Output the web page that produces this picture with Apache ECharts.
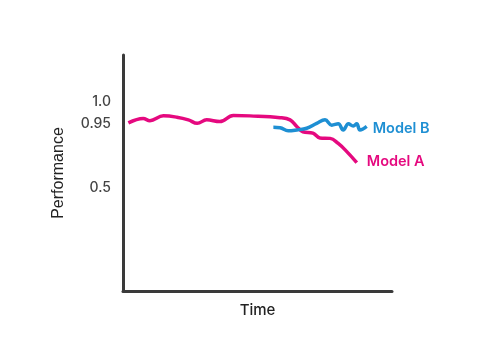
<!DOCTYPE html>
<html><head><meta charset="utf-8">
<script src="https://cdn.jsdelivr.net/npm/echarts@6/dist/echarts.min.js"></script>
<style>html,body{margin:0;padding:0;background:#fff}#c{width:480px;height:360px}</style>
</head><body><div id="c"></div>
<script>
// Time (arbitrary 0-100 units) and performance readings
var timeA = [2, 7.5, 10, 15, 20, 24.3, 27.6, 31.1, 36, 41, 47.2, 58.4, 62.1, 64.6, 66.9, 70.6, 73.2, 77, 79.9, 83.2, 86.9];
var perfA = [0.951, 0.961, 0.956, 0.967, 0.964, 0.958, 0.950, 0.958, 0.954, 0.968, 0.967, 0.963, 0.958, 0.943, 0.931, 0.928, 0.917, 0.916, 0.905, 0.886, 0.861];
var timeB = [55.9, 58.4, 61.4, 64.6, 68.3, 72.0, 75.1, 77.6, 80.0, 81.9, 83.8, 85.6, 86.9, 88.1, 90.6];
var perfB = [0.941, 0.940, 0.933, 0.935, 0.939, 0.950, 0.958, 0.946, 0.949, 0.935, 0.949, 0.944, 0.949, 0.935, 0.943];
var seriesNames = ['Model A', 'Model B'];
var yTickText = ['1.0', '0.95', '0.5'];
var yTickAt = [1.0, 0.95, 0.8035];

function pairs(xs, ys) { return xs.map(function (x, i) { return [x, ys[i]]; }); }
var labelMap = {};
yTickAt.forEach(function (v, i) { labelMap[v] = yTickText[i]; });

var chart = echarts.init(document.getElementById('c'), null, {renderer: 'canvas'});
chart.setOption({
  animation: false,
  backgroundColor: '#ffffff',
  grid: {left: 123, right: 88, top: 55, bottom: 69, containLabel: false},
  xAxis: {
    type: 'value', min: 0, max: 100,
    name: 'Time', nameLocation: 'middle', nameGap: 12,
    nameTextStyle: {fontFamily: 'Inter', fontSize: 15, fontWeight: 500, color: '#222'},
    axisLine: {show: true, lineStyle: {color: '#3a3a3a', width: 3}},
    axisTick: {show: false}, axisLabel: {show: false}, splitLine: {show: false}
  },
  yAxis: {
    type: 'value', min: 0.57, max: 1.105,
    name: 'Performance', nameLocation: 'middle', nameGap: 56, nameRotate: 90,
    nameTextStyle: {fontFamily: 'Liberation Sans', fontSize: 16, color: '#222'},
    axisLine: {show: true, lineStyle: {color: '#3a3a3a', width: 3}},
    axisTick: {show: false},
    splitLine: {show: false},
    axisLabel: {
      customValues: yTickAt, margin: 12,
      fontFamily: 'Inter', fontSize: 14, fontWeight: 500, color: '#444',
      formatter: function (v) { return labelMap[v] !== undefined ? labelMap[v] : ''; }
    }
  },
  series: [
    {
      name: seriesNames[0], type: 'line', smooth: 0.4, showSymbol: false,
      data: pairs(timeA, perfA),
      lineStyle: {color: '#e5097f', width: 3.5},
      endLabel: {show: true, formatter: seriesNames[0], color: '#e5097f', fontFamily: 'Inter', fontSize: 14.5, fontWeight: 600, offset: [2, -1]}
    },
    {
      name: seriesNames[1], type: 'line', smooth: 0.4, showSymbol: false,
      data: pairs(timeB, perfB),
      lineStyle: {color: '#1e8fd3', width: 3.5},
      endLabel: {show: true, formatter: seriesNames[1], color: '#1e8fd3', fontFamily: 'Inter', fontSize: 14.5, fontWeight: 600, offset: [-2, 2]}
    }
  ]
});
</script></body></html>
